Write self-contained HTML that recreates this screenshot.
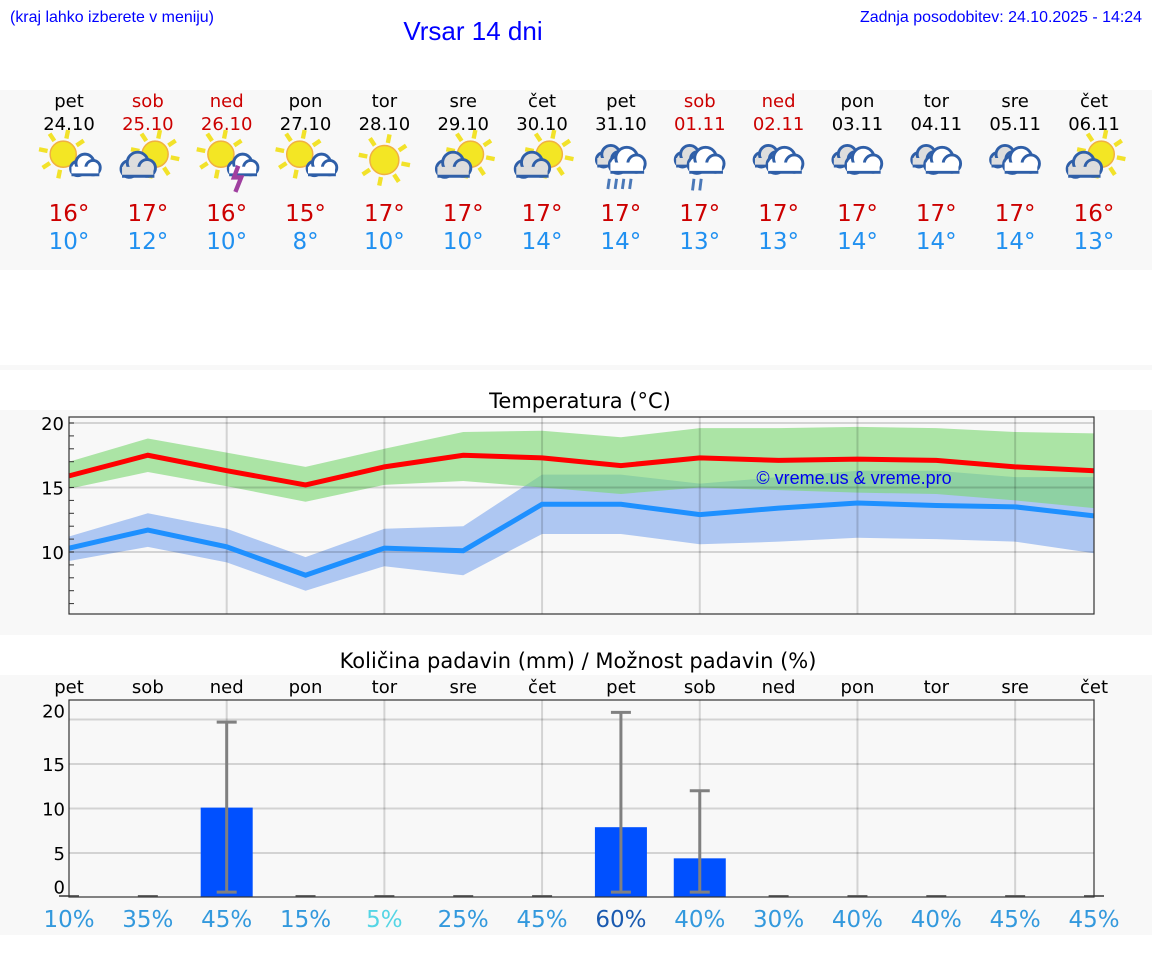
<!DOCTYPE html>
<html><head><meta charset="utf-8">
<style>
html,body{margin:0;padding:0;background:#fff;}
svg{display:block;}
.dj{font-family:"DejaVu Sans","Liberation Sans",sans-serif;}
.ls{font-family:"Liberation Sans",Arial,sans-serif;}
</style></head>
<body>
<svg id="c" width="1152" height="975" xmlns="http://www.w3.org/2000/svg">
<rect x="0" y="90" width="1152" height="180" fill="#f8f8f8"/>
<rect x="0" y="365" width="1152" height="5" fill="#f8f8f8"/>
<rect x="0" y="410" width="1152" height="225" fill="#f8f8f8"/>
<rect x="0" y="675" width="1152" height="260" fill="#f8f8f8"/>
<text x="10" y="22" class="ls" font-size="16" fill="#0000ff" textLength="204" lengthAdjust="spacingAndGlyphs">(kraj lahko izberete v meniju)</text>
<text x="473" y="40" class="ls" font-size="26" fill="#0000ff" text-anchor="middle">Vrsar 14 dni</text>
<text x="860" y="22" class="ls" font-size="16" fill="#0000ff" textLength="282" lengthAdjust="spacingAndGlyphs">Zadnja posodobitev: 24.10.2025 - 14:24</text>
<text x="580" y="408" class="dj" font-size="21" fill="#000" text-anchor="middle">Temperatura (°C)</text>
<text x="578" y="668" class="dj" font-size="21" fill="#000" text-anchor="middle">Količina padavin (mm) / Možnost padavin (%)</text>
<g id="days"></g><g id="temp"></g><g id="prec"></g>
</svg>
<script>
const dayNames=["pet","sob","ned","pon","tor","sre","čet","pet","sob","ned","pon","tor","sre","čet"];
const dates=["24.10","25.10","26.10","27.10","28.10","29.10","30.10","31.10","01.11","02.11","03.11","04.11","05.11","06.11"];
const weekend=[0,1,1,0,0,0,0,0,1,1,0,0,0,0];
const icons=["sc","cs","st","sc","su","cs","cs","r4","r2","cl","cl","cl","cl","cs"];
const hiLabels=[16,17,16,15,17,17,17,17,17,17,17,17,17,16];
const loLabels=[10,12,10,8,10,10,14,14,13,13,14,14,14,13];
const maxT=[15.9,17.5,16.3,15.2,16.6,17.5,17.3,16.7,17.3,17.1,17.2,17.1,16.6,16.3];
const maxHi=[17.0,18.8,17.7,16.6,18.0,19.3,19.4,18.9,19.6,19.6,19.7,19.6,19.3,19.2];
const maxLo=[14.9,16.2,15.1,13.9,15.2,15.5,15.0,14.5,15.0,14.8,14.6,14.5,14.0,13.4];
const minT=[10.3,11.7,10.4,8.2,10.3,10.1,13.7,13.7,12.9,13.4,13.8,13.6,13.5,12.8];
const minHi=[11.2,13.0,11.8,9.6,11.8,12.0,16.0,16.0,15.3,15.8,16.3,16.3,15.8,15.8];
const minLo=[9.3,10.4,9.2,7.0,8.9,8.2,11.4,11.4,10.6,10.8,11.1,11.0,10.8,9.9];
const tempTicks=[10,15,20];
const precip=[0,0,10.1,0,0,0,0,7.9,4.4,0,0,0,0,0];
const precipHi=[0,0,19.7,0,0,0,0,20.8,12.0,0,0,0,0,0];
const precipLo=[0,0,0.6,0,0,0,0,0.6,0.6,0,0,0,0,0];
const precipTicks=[0,5,10,15,20];
const chance=[10,35,45,15,5,25,45,60,40,30,40,40,45,45];

const NS="http://www.w3.org/2000/svg";
function mk(p,tag,at,txt){const e=document.createElementNS(NS,tag);for(const k in at)e.setAttribute(k,at[k]);if(txt!==undefined)e.textContent=txt;p.appendChild(e);return e;}
const X0=69,X1=1094;
const xs=i=>X0+i*(X1-X0)/13;
const yt=v=>423+(20-v)*12.9;
const yp=v=>897.5-v*8.9;

const D=document.getElementById('days');
function sun(g,cx,cy,r){
  for(let k=0;k<8;k++){const a=k*Math.PI/4+0.2;
    const l=mk(g,'line',{x1:cx+Math.cos(a)*(r+2),y1:cy+Math.sin(a)*(r+2),x2:cx+Math.cos(a)*(r+8),y2:cy+Math.sin(a)*(r+8),stroke:'#f2e22a','stroke-width':3});
    }
  const c=mk(g,'circle',{cx:cx,cy:cy,r:r,fill:'#f3e624',stroke:'#f0b040','stroke-width':1});
  
}
function cl(g,cx,cy,s,fill){
  const e=mk(g,'g',{});
  
  [[-8,3,8],[0,-3,10],[9,2,8]].forEach(([dx,dy,r])=>mk(e,'circle',{cx:cx+dx*s,cy:cy+dy*s,r:r*s,fill:fill,stroke:'#2f5fa8','stroke-width':2}));
  mk(e,'rect',{x:cx-15*s,y:cy+1*s,width:30*s,height:9*s,fill:fill});
  mk(e,'line',{x1:cx-15*s,y1:cy+10*s,x2:cx+16*s,y2:cy+10*s,stroke:'#2f5fa8','stroke-width':2});
}
for(let i=0;i<14;i++){
  const x=xs(i), col=weekend[i]?'#cc0000':'#000';
  const t1=mk(D,'text',{x:x,y:107,'text-anchor':'middle','font-size':18,fill:col,class:'dj'},dayNames[i]);
  
  const t2=mk(D,'text',{x:x,y:130,'text-anchor':'middle','font-size':18,fill:col,class:'dj'},dates[i]);
  
  const cy=160;
  const g=mk(D,'g',{transform:`translate(${x},${cy}) scale(1.45) translate(${-x},${-cy})`});
  
  const ic=icons[i];
  if(ic==='sc'||ic==='st'){sun(g,x-4,cy-4,9);cl(g,x+11,cy+4,0.62,'#fff');}
  if(ic==='st'){mk(g,'path',{d:`M${x+8},${cy+4} l-3,8 h5 l-4,10`,stroke:'#a040a0','stroke-width':3,fill:'none'});}
  if(ic==='su'){sun(g,x,cy,10);}
  if(ic==='cs'){sun(g,x+5,cy-4,9);cl(g,x-7,cy+4,0.72,'#ddd');}
  if(ic==='cl'||ic==='r4'||ic==='r2'){cl(g,x-7,cy-2,0.62,'#ddd');cl(g,x+4,cy+1,0.75,'#fff');}
  if(ic==='r4'){for(let k=0;k<4;k++)mk(g,'line',{x1:x-8+k*5,y1:cy+13,x2:x-9+k*5,y2:cy+20,stroke:'#4a78b8','stroke-width':2});}
  if(ic==='r2'){for(let k=0;k<2;k++)mk(g,'line',{x1:x-4+k*5,y1:cy+13,x2:x-5+k*5,y2:cy+21,stroke:'#4a78b8','stroke-width':2});}
  const h=mk(D,'text',{x:x,y:221,'text-anchor':'middle','font-size':23,fill:'#cc0000',class:'dj'},hiLabels[i]+'°');
  
  const l=mk(D,'text',{x:x,y:249,'text-anchor':'middle','font-size':23,fill:'#2090f0',class:'dj'},loLabels[i]+'°');
  
}

const T=document.getElementById('temp');
const TT=417,TB=614;
mk(T,'rect',{x:X0,y:TT,width:X1-X0,height:TB-TT,fill:'#f8f8f8'});
function band(hi,lo,fill,name){
  let d='M'+hi.map((v,i)=>xs(i)+','+yt(v)).join(' L');
  d+=' L'+lo.map((v,i)=>xs(i)+','+yt(v)).reverse().join(' L')+' Z';
  const p=mk(T,'path',{d:d,fill:fill});
  
}
band(minHi,minLo,'rgba(100,150,235,0.5)','min-temp-range');
band(maxHi,maxLo,'rgba(120,215,110,0.6)','max-temp-range');
for(const v of tempTicks){
  mk(T,'line',{x1:X0,y1:yt(v),x2:X1,y2:yt(v),stroke:'rgba(0,0,0,0.15)','stroke-width':2});
  const t=mk(T,'text',{x:X0-5,y:yt(v)+7,'text-anchor':'end','font-size':18,class:'dj'},v);
  
}
for(let v=6;v<=20;v++) mk(T,'line',{x1:X0,y1:yt(v),x2:X0+5,y2:yt(v),stroke:'#333','stroke-width':1});
for(let i=2;i<14;i+=2) mk(T,'line',{x1:xs(i),y1:TT,x2:xs(i),y2:TB,stroke:'rgba(0,0,0,0.15)','stroke-width':2});
function line(arr,col,name){
  const p=mk(T,'polyline',{points:arr.map((v,i)=>xs(i)+','+yt(v)).join(' '),fill:'none',stroke:col,'stroke-width':5});
  
}
line(maxT,'#ff0000','max-temp-line');
line(minT,'#1e90ff','min-temp-line');
const wm=mk(T,'text',{x:854,y:484,'text-anchor':'middle','font-size':18,fill:'#0000ee',class:'ls'},'© vreme.us & vreme.pro');

mk(T,'rect',{x:X0,y:TT,width:X1-X0,height:TB-TT,fill:'none',stroke:'#333','stroke-width':1.2});

const P=document.getElementById('prec');
const PT=700,PB=897;
for(let i=0;i<14;i++){
  const t=mk(P,'text',{x:xs(i),y:693,'text-anchor':'middle','font-size':18,class:'dj'},dayNames[i]);
  
}
for(const v of precipTicks){
  if(v>0) mk(P,'line',{x1:X0,y1:yp(v),x2:X1,y2:yp(v),stroke:'rgba(0,0,0,0.15)','stroke-width':2});
  const yy=v===20?yp(v)-2:(v===0?yp(v)-4:yp(v)+7);
  const t=mk(P,'text',{x:X0-4,y:yy,'text-anchor':'end','font-size':18,class:'dj'},v);
  
}
for(let i=2;i<14;i+=2) mk(P,'line',{x1:xs(i),y1:PT,x2:xs(i),y2:PB,stroke:'rgba(0,0,0,0.15)','stroke-width':2});
for(let i=0;i<14;i++){
  const x=xs(i);
  if(precip[i]>0){
    const b=mk(P,'rect',{x:x-26,y:yp(precip[i]),width:52,height:PB-yp(precip[i]),fill:'#0050ff'});
    
  }
  if(precipHi[i]>0){
    const g=mk(P,'g',{stroke:'#808080','stroke-width':3});
    
    mk(g,'line',{x1:x,y1:yp(precipHi[i]),x2:x,y2:yp(precipLo[i])});
    mk(g,'line',{x1:x-10,y1:yp(precipHi[i]),x2:x+10,y2:yp(precipHi[i])});
    mk(g,'line',{x1:x-10,y1:yp(precipLo[i]),x2:x+10,y2:yp(precipLo[i])});
  } else {
    mk(P,'line',{x1:x-10,y1:PB-1,x2:x+10,y2:PB-1,stroke:'#666','stroke-width':2});
  }
  const c=chance[i], col=c<=5?'#55d5e5':(c>=60?'#1a5ab0':'#3399dd');
  const t=mk(P,'text',{x:x,y:927,'text-anchor':'middle','font-size':23,fill:col,class:'dj'},c+'%');
  
}
mk(P,'rect',{x:X0,y:PT,width:X1-X0,height:PB-PT,fill:'none',stroke:'#333','stroke-width':1.2});
</script>
</body></html>
